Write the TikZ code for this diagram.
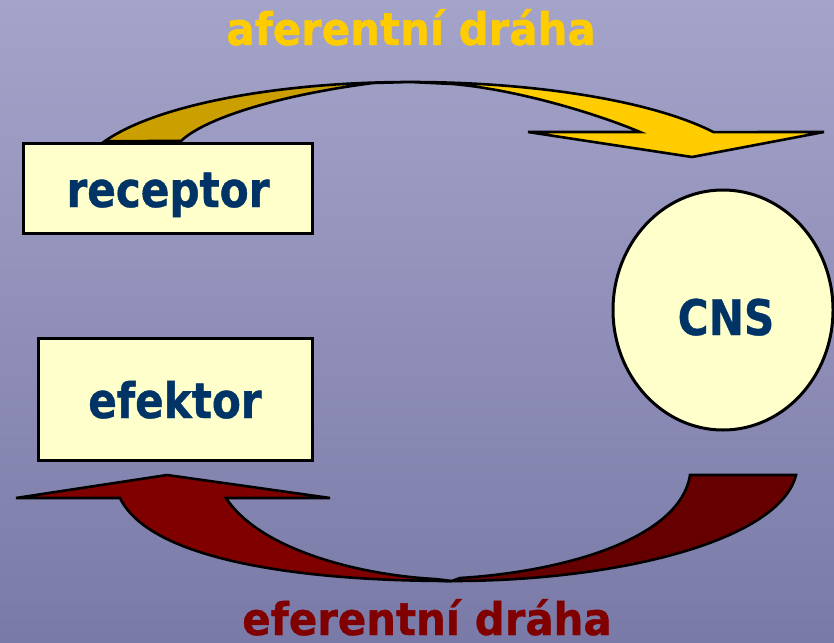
\documentclass[tikz,border=0pt]{standalone}
\usepackage{fontspec}
\usetikzlibrary{shapes.geometric}
\newfontfamily\boxfont[FakeStretch=0.86,FakeBold=0.8]{DejaVu Sans}
\newfontfamily\titlefont[FakeStretch=0.93,FakeBold=0.8]{DejaVu Sans}
\definecolor{bgtop}{RGB}{164,164,202}
\definecolor{bgbot}{RGB}{122,122,168}
\definecolor{boxfill}{HTML}{FFFFCC}
\definecolor{boxtext}{HTML}{003366}
\definecolor{gold}{HTML}{FFCC00}
\definecolor{goldback}{HTML}{CC9F00}
\definecolor{redfront}{HTML}{800000}
\definecolor{redback}{HTML}{660000}
\tikzset{
  organ/.style={draw=black, line width=3pt, fill=boxfill, text=boxtext},
  organtext/.style={font=\boxfont\bfseries\fontsize{49}{49}\selectfont, text=boxtext, inner sep=0pt},
  pathlabel/.style={font=\titlefont\bfseries\fontsize{45}{45}\selectfont, inner sep=0pt},
  arrowline/.style={draw=black, line width=2.6pt, line join=miter}
}
\begin{document}
\begin{tikzpicture}[x=1pt, y=-1pt]
\useasboundingbox (0,0) rectangle (834,642);
\shade[top color=bgtop, bottom color=bgbot] (0,0) rectangle (834,642);

% afferent arrow (top)
\path[fill=goldback, arrowline]
   plot[domain=157.6:90, samples=60] ({410+330*cos(\x)}, {177.5-95.5*sin(\x)})
   -- (373,83) .. controls (280,95) and (205,118) .. (181,141) -- cycle;
\path[fill=gold, arrowline]
   plot[domain=90:28.4, samples=60] ({410+345*cos(\x)}, {177.5-95.5*sin(\x)})
   -- (824,132) -- (692,157) -- (528,132) -- (640,132)
   .. controls (600,115) and (520,90) .. (453,84) -- cycle;

% efferent arrow (bottom)
\path[fill=redfront, arrowline] (16,498) -- (167,475) -- (330,498) -- (226,498)
   .. controls (260,550) and (360,575) .. (435,579) -- (452,581)
   .. controls (300,581) and (150,560) .. (120,498) -- cycle;
\path[fill=redback, arrowline] (796,475) .. controls (780,540) and (620,581) .. (452,581)
   -- (460,578) .. controls (560,572) and (680,540) .. (690,475) -- cycle;

% organs
\node[organ, rectangle, minimum width=289pt, minimum height=90pt, inner sep=0pt] (receptor) at (167.5,188) {};
\node[organtext, anchor=base] (receptortext) at (168,207) {receptor};
\node[organ, rectangle, minimum width=274pt, minimum height=122pt, inner sep=0pt] (efektor) at (175,399) {};
\node[organtext, anchor=base] (efektortext) at (175,418) {efektor};
\node[organ, ellipse, minimum width=220pt, minimum height=240pt, inner sep=0pt] (cns) at (723,310) {};
\node[organtext, anchor=base] (cnstext) at (726,335) {CNS};

% path labels
\node[pathlabel, text=gold, anchor=base] (aferent) at (411,45) {aferentní dráha};
\node[pathlabel, text=redfront, anchor=base] (eferent) at (427,635) {eferentní dráha};
\end{tikzpicture}
\end{document}
